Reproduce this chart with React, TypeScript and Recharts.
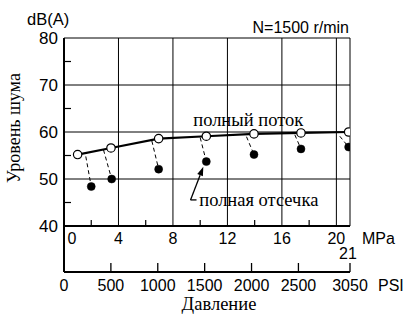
import React from 'react';
import { ComposedChart, Line, XAxis, YAxis, ReferenceLine, ReferenceDot, Label } from 'recharts';

// Pressure (MPa) of the full-flow points and their noise level, dB(A)
const pressureFull = [1.0, 3.45, 6.95, 10.45, 13.95, 17.4, 20.9];
const noiseFull = [55.2, 56.6, 58.6, 59.1, 59.6, 59.8, 60.0];
// Full cut-off points
const pressureCut = [2.0, 3.5, 6.95, 10.45, 13.95, 17.4, 20.9];
const noiseCut = [48.4, 50.0, 52.1, 53.7, 55.2, 56.4, 56.8];
// Start of the dashed leaders (near each open circle)
const leaderStartP = [1.6, 2.9, 6.45, 10.0, 13.4, 16.95, 20.25];
const leaderStartDb = [54.8, 56.2, 58.1, 58.8, 59.0, 59.4, 59.1];

const mpaTicks = [0, 2, 4, 6, 8, 10, 12, 14, 16, 18, 20, 21];
const mpaGrid = [4, 8, 12, 16, 20, 21];
const dbTicks = [40, 45, 50, 55, 60, 65, 70, 75, 80];
const dbGrid = [50, 60, 70, 80];
const psiTicks = [0, 500, 1000, 1500, 2000, 2500, 3050];

const fullData = pressureFull.map((p, i) => ({ p, full: noiseFull[i] }));
const cutData = pressureCut.map((p, i) => ({ p, cut: noiseCut[i] }));

const SANS = '"Liberation Sans", Arial, Helvetica, sans-serif';
const SERIF = '"Liberation Serif", "Times New Roman", serif';

const MpaTick = (props: any) => {
  const { x, y, payload } = props;
  const v = payload.value;
  const major = v % 4 === 0;
  return (
    <g>
      {!major && v !== 21 && (
        <line x1={x} y1={y} x2={x} y2={y - 6} stroke="#000" strokeWidth={1.2} />
      )}
      {major && (
        <text x={v === 0 ? x + 8 : x} y={y + 12} textAnchor="middle" dominantBaseline="central"
          fontFamily={SANS} fontSize={16} fill="#000">{v}</text>
      )}
      {v === 21 && (
        <text x={x - 2} y={y + 27} textAnchor="middle" dominantBaseline="central"
          fontFamily={SANS} fontSize={16} fill="#000">{v}</text>
      )}
    </g>
  );
};

const PsiTick = (props: any) => {
  const { x, y, payload } = props;
  const v = payload.value;
  return (
    <g>
      <line x1={x} y1={y} x2={x} y2={v === 0 ? y - 46 : y - 9} stroke="#000" strokeWidth={v === 0 ? 2 : 1.3} />
      <text x={x} y={y + 13} textAnchor="middle" dominantBaseline="central"
        fontFamily={SANS} fontSize={16} fill="#000">{v}</text>
    </g>
  );
};

const DbTick = (props: any) => {
  const { x, y, payload } = props;
  const v = payload.value;
  const major = v % 10 === 0;
  return (
    <g>
      {!major && <line x1={x} y1={y} x2={x + 7} y2={y} stroke="#000" strokeWidth={1.2} />}
      {major && (
        <text x={x - 6} y={y} textAnchor="end" dominantBaseline="central"
          fontFamily={SANS} fontSize={17} fill="#000">{v}</text>
      )}
    </g>
  );
};

const ArrowShape = (props: any) => {
  const { x1, y1, x2, y2 } = props;
  const dx = x2 - x1;
  const dy = y2 - y1;
  const len = Math.sqrt(dx * dx + dy * dy) || 1;
  const ux = dx / len;
  const uy = dy / len;
  const hl = 9;
  const hw = 3;
  const bx = x2 - ux * hl;
  const by = y2 - uy * hl;
  const pts = `${x2},${y2} ${bx - uy * hw},${by + ux * hw} ${bx + uy * hw},${by - ux * hw}`;
  return (
    <g>
      <line x1={x1} y1={y1} x2={bx} y2={by} stroke="#000" strokeWidth={1.3} />
      <line x1={x1} y1={y1} x2={x1 + 6} y2={y1} stroke="#000" strokeWidth={1.3} />
      <polygon points={pts} fill="#000" />
    </g>
  );
};

const textShape = (txt: string) => (props: any) => (
  <text x={props.cx} y={props.cy} textAnchor="start" dominantBaseline="central"
    fontFamily={SERIF} fontSize={18.5} fill="#000">{txt}</text>
);

export default function App() {
  return (
    <div style={{ position: 'absolute', left: 0, top: 0, width: 407, height: 314, background: '#fff' }}>
      <ComposedChart width={407} height={314} margin={{ top: 38, right: 57, bottom: 0, left: 0 }}>
        <XAxis xAxisId="mpa" dataKey="p" type="number" domain={[0, 21]} ticks={mpaTicks} interval={0}
          allowDataOverflow tickSize={0} tickMargin={0} tickLine={false} height={46}
          axisLine={{ stroke: '#000', strokeWidth: 2 }} tick={<MpaTick />}>
          <Label content={() => (
            <text x={362} y={238} textAnchor="start" dominantBaseline="central"
              fontFamily={SANS} fontSize={16} fill="#000">MPa</text>
          )} />
        </XAxis>
        <XAxis xAxisId="psi" dataKey="psi" type="number" domain={[0, 3050]} ticks={psiTicks} interval={0}
          allowDataOverflow tickSize={0} tickMargin={0} tickLine={false} height={42}
          axisLine={{ stroke: '#000', strokeWidth: 2 }} tick={<PsiTick />}>
          <Label content={() => (
            <g>
              <text x={378} y={285} textAnchor="start" dominantBaseline="central"
                fontFamily={SANS} fontSize={16} fill="#000">PSI</text>
              <text x={219} y={304} textAnchor="middle" dominantBaseline="central"
                fontFamily={SERIF} fontSize={18.5} fill="#000">Давление</text>
            </g>
          )} />
        </XAxis>
        <YAxis type="number" domain={[40, 80]} ticks={dbTicks} interval={0} width={64}
          allowDataOverflow tickSize={0} tickMargin={0} tickLine={false}
          axisLine={{ stroke: '#000', strokeWidth: 2 }} tick={<DbTick />}>
          <Label content={() => (
            <g>
              <text x={27} y={19} textAnchor="start" dominantBaseline="central"
                fontFamily={SANS} fontSize={16.5} fill="#000">dB(A)</text>
              <text x={349} y={27} textAnchor="end" dominantBaseline="central"
                fontFamily={SANS} fontSize={16} fill="#000">N=1500 r/min</text>
              <text transform="translate(14,128) rotate(-90)" textAnchor="middle" dominantBaseline="central"
                fontFamily={SERIF} fontSize={18} fill="#000">Уровень шума</text>
            </g>
          )} />
        </YAxis>

        {dbGrid.map((v) => (
          <ReferenceLine key={'h' + v} xAxisId="mpa" y={v} stroke="#000" strokeWidth={1} />
        ))}
        {mpaGrid.map((v) => (
          <ReferenceLine key={'v' + v} xAxisId="mpa" x={v} stroke="#000" strokeWidth={1} />
        ))}
        {pressureCut.map((p, i) => (
          <ReferenceLine key={'d' + i} xAxisId="mpa"
            segment={[{ x: leaderStartP[i], y: leaderStartDb[i] }, { x: p, y: noiseCut[i] }]}
            stroke="#000" strokeWidth={1} strokeDasharray="4 3" />
        ))}
        <ReferenceLine xAxisId="mpa" segment={[{ x: 9.29, y: 45.55 }, { x: 10.23, y: 52.6 }]}
          shape={<ArrowShape />} />

        <Line xAxisId="mpa" data={fullData} dataKey="full" stroke="#000" strokeWidth={2.2}
          dot={{ r: 4.2, fill: '#fff', stroke: '#000', strokeWidth: 1.2 }} activeDot={false}
          isAnimationActive={false} legendType="none" />
        <Line xAxisId="mpa" data={cutData} dataKey="cut" stroke="none"
          dot={{ r: 4, fill: '#000', stroke: '#000', strokeWidth: 0.5 }} activeDot={false}
          isAnimationActive={false} legendType="none" />

        <ReferenceDot xAxisId="mpa" x={9.49} y={62.55} r={0} shape={textShape('полный поток')} />
        <ReferenceDot xAxisId="mpa" x={9.93} y={45.55} r={0} shape={textShape('полная отсечка')} />
      </ComposedChart>
    </div>
  );
}
